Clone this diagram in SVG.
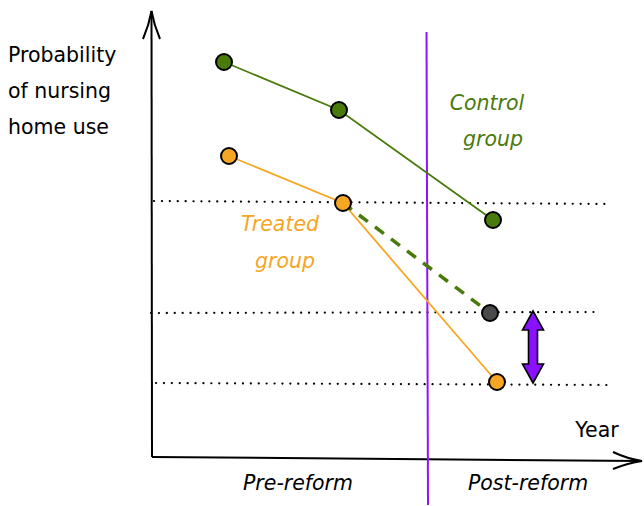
<svg xmlns="http://www.w3.org/2000/svg" width="644" height="506" viewBox="0 0 644 506">
<style>
text{font-family:"DejaVu Sans","Liberation Sans",sans-serif;font-size:20.5px}
.it{font-style:italic}
.axis{stroke:#000;stroke-width:2;fill:none}
.dot{stroke:#000;stroke-width:2.2;fill:none;stroke-dasharray:0.1 7.8;stroke-linecap:round}
.gl{stroke:#4a7a0c;stroke-width:1.8;fill:none}
.ol{stroke:#f5a623;stroke-width:1.8;fill:none}
.pt{stroke:#000;stroke-width:2}
</style>
<rect width="644" height="506" fill="#fff"/>
<g id="axes">
<path class="axis" d="M152 457 L151.5 11"/>
<path class="axis" d="M143 39 Q149 25 151.5 11 Q154 25 160 39"/>
<path class="axis" d="M152 457 L641 461"/>
<path class="axis" d="M613 452 Q628 459 642 461 Q628 463 613 469"/>
</g>
<g id="gridlines">
<path class="dot" d="M154 201 L610 204"/>
<path class="dot" d="M151 313 L597 312"/>
<path class="dot" d="M156 383 L608 385"/>
</g>
<g id="reform-line">
<path d="M426.5 32 L428 505" stroke="#9013fe" stroke-width="2"/>
</g>
<g id="connectors">
<path class="gl" d="M224 62 L339 110 L493 220"/>
<path class="ol" d="M229 156 L343 203 L497 382"/>
<path d="M343 203 L490 313" stroke="#4a7a0c" stroke-width="3.5" stroke-dasharray="11 9" fill="none"/>
</g>
<g id="control-points">
<circle class="pt" cx="224" cy="62" r="8" fill="#4a7a0c"/>
<circle class="pt" cx="339" cy="110" r="8" fill="#4a7a0c"/>
<circle class="pt" cx="493" cy="220" r="8" fill="#4a7a0c"/>
</g>
<g id="treated-points">
<circle class="pt" cx="229" cy="156" r="8" fill="#f5a623"/>
<circle class="pt" cx="343" cy="203" r="8" fill="#f5a623"/>
<circle class="pt" cx="497" cy="382" r="8" fill="#f5a623"/>
</g>
<g id="counterfactual-point">
<circle class="pt" cx="490" cy="313" r="8" fill="#4a4a4a"/>
</g>
<g id="effect-arrow">
<path d="M533 311 L543.5 330 L537.5 330 L537.5 364 L543.5 364 L533 383 L522.5 364 L528.5 364 L528.5 330 L522.5 330 Z" fill="#8b10ff" stroke="#000" stroke-width="1.6" stroke-linejoin="miter"/>
</g>
<g id="labels">
<text x="8" y="62">Probability</text>
<text x="8" y="98">of nursing</text>
<text x="8" y="134">home use</text>
<text class="it" x="487" y="110" text-anchor="middle" fill="#4a7a0c">Control</text>
<text class="it" x="493" y="146" text-anchor="middle" fill="#4a7a0c">group</text>
<text class="it" x="280" y="231" text-anchor="middle" fill="#f5a623">Treated</text>
<text class="it" x="285" y="268" text-anchor="middle" fill="#f5a623">group</text>
<text x="597" y="437" text-anchor="middle">Year</text>
<text class="it" x="298" y="490" text-anchor="middle">Pre-reform</text>
<text class="it" x="528" y="490" text-anchor="middle">Post-reform</text>
</g>
</svg>
